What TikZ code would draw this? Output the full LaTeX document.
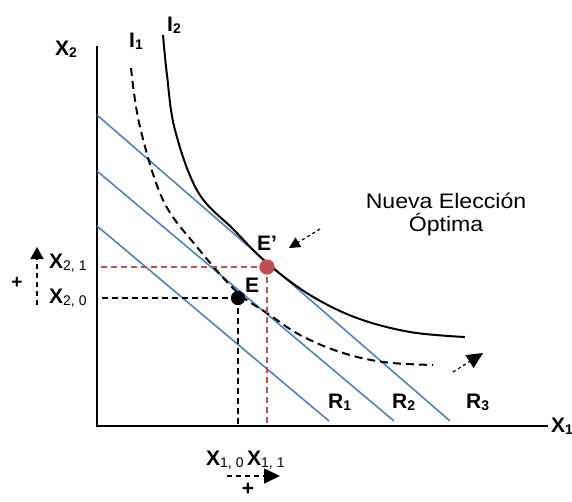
\documentclass[tikz,border=0pt]{standalone}
\usepackage{fontspec}
\setmainfont{Liberation Sans}
\newfontfamily\nuevafont[FakeStretch=1.1]{Liberation Sans}
\usetikzlibrary{arrows.meta}
\definecolor{lineblue}{RGB}{79,129,189}
\definecolor{dotred}{RGB}{192,80,77}
\newcommand\bsub[2]{\textbf{#1}\raisebox{-2pt}{\fontsize{14}{14}\selectfont\textbf{#2}}}
\newcommand\nsub[2]{\textbf{#1}\raisebox{-2pt}{\fontsize{14}{14}\selectfont #2}}
\begin{document}
\begin{tikzpicture}[x=1pt,y=-1pt,
  lbl/.style={font=\fontsize{21}{21}\selectfont, inner sep=0pt, anchor=base west},
  plus/.style={font=\fontsize{19}{19}\selectfont\bfseries, inner sep=0pt},
  axisline/.style={line width=1.5pt},
  budget/.style={lineblue, line width=1.6pt},
  indiff/.style={line width=2pt},
  indiffdash/.style={line width=2pt, dash pattern=on 8pt off 5pt},
  guidered/.style={dotred, line width=1.6pt, dash pattern=on 6pt off 4pt},
  guideblack/.style={black, line width=1.6pt, dash pattern=on 6pt off 4pt},
  dotE/.style={circle, fill=black, minimum size=14pt, inner sep=0pt},
  dotEp/.style={circle, fill=dotred, minimum size=15pt, inner sep=0pt},
  shiftarrow/.style={line width=1.6pt, dash pattern=on 5pt off 4pt},
  noteline/.style={line width=1.2pt, dash pattern=on 3pt off 3pt}
]
\useasboundingbox (0,0) rectangle (572,501);

% axes
\coordinate (o) at (97,426);
\coordinate (ytop) at (97,46);
\coordinate (xend) at (548,426);
\draw[axisline] (ytop) -- (o) -- (xend);

% budget lines
\coordinate (r3a) at (97,115);  \coordinate (r3b) at (450,421);
\coordinate (r2a) at (97,171);  \coordinate (r2b) at (394,421);
\coordinate (r1a) at (97,226);  \coordinate (r1b) at (329,421);
\draw[budget] (r3a) -- (r3b);
\draw[budget] (r2a) -- (r2b);
\draw[budget] (r1a) -- (r1b);

% indifference curves
\draw[indiff] plot[smooth, tension=0.6] coordinates
  {(163,35) (167,75) (175,130) (198,192) (234,230) (267,263) (310,295) (357,318) (410,332) (465,337)};
\draw[indiffdash] plot[smooth, tension=0.6] coordinates
  {(131,68) (140,127) (163,200) (197,247) (237,292) (267,313) (300,335) (340,352) (383,362) (433,365)};

% equilibrium points
\node[dotE] (E) at (238,298) {};
\node[dotEp] (Ep) at (267,267) {};
\draw[guideblack] (E.center) -- (E.center -| o);
\draw[guideblack] (E.center) -- (E.center |- o);
\draw[guidered] (Ep.center) -- (Ep.center -| o);
\draw[guidered] (Ep.center) -- (Ep.center |- o);
\node[dotE] at (238,298) {};
\node[dotEp] at (267,267) {};

% labels
\node[lbl] (lx2) at (55,55) {\bsub{X}{2}};
\node[lbl] (li1) at (129,47) {\bsub{I}{1}};
\node[lbl] (li2) at (167,31.5) {\bsub{I}{2}};
\node[lbl] (lEp) at (257,250) {\textbf{E’}};
\node[lbl] (lE) at (245,292) {\textbf{E}};
\node[lbl] (lx21) at (49,268) {\nsub{X}{2, 1}};
\node[lbl] (lx20) at (49,303) {\nsub{X}{2, 0}};
\node[lbl] (lx10) at (206,465) {\nsub{X}{1, 0}};
\node[lbl] (lx11) at (247,465) {\nsub{X}{1, 1}};
\node[lbl] (lr1) at (328,408) {\bsub{R}{1}};
\node[lbl] (lr2) at (392,408) {\bsub{R}{2}};
\node[lbl] (lr3) at (466,408) {\bsub{R}{3}};
\node[lbl] (lx1) at (551,432) {\bsub{X}{1}};
\node[plus] (p1) at (17,283) {+};
\node[plus, font=\fontsize{21}{21}\selectfont\bfseries] (p2) at (248,489) {+};

\node[font=\nuevafont\fontsize{21}{23}\selectfont, align=center, inner sep=0pt, anchor=north] (nueva) at (446,193) {Nueva Elección\\Óptima};

% arrows
\coordinate (ua) at (37,305); \coordinate (ub) at (37,247);
\draw[shiftarrow, -{Triangle[length=12pt,width=13pt]}] (ua) -- (ub);
\coordinate (ba) at (227,476); \coordinate (bb) at (280,476);
\draw[shiftarrow, -{Triangle[length=16pt,width=15pt]}] (ba) -- (bb);
\coordinate (na) at (320,229); \coordinate (nb) at (289,248);
\draw[noteline, -{Triangle[length=11pt,width=11pt]}] (na) -- (nb);
\coordinate (ma) at (453,372); \coordinate (mb) at (483,353);
\draw[noteline, -{Triangle[length=16pt,width=15pt]}] (ma) -- (mb);
\end{tikzpicture}
\end{document}
